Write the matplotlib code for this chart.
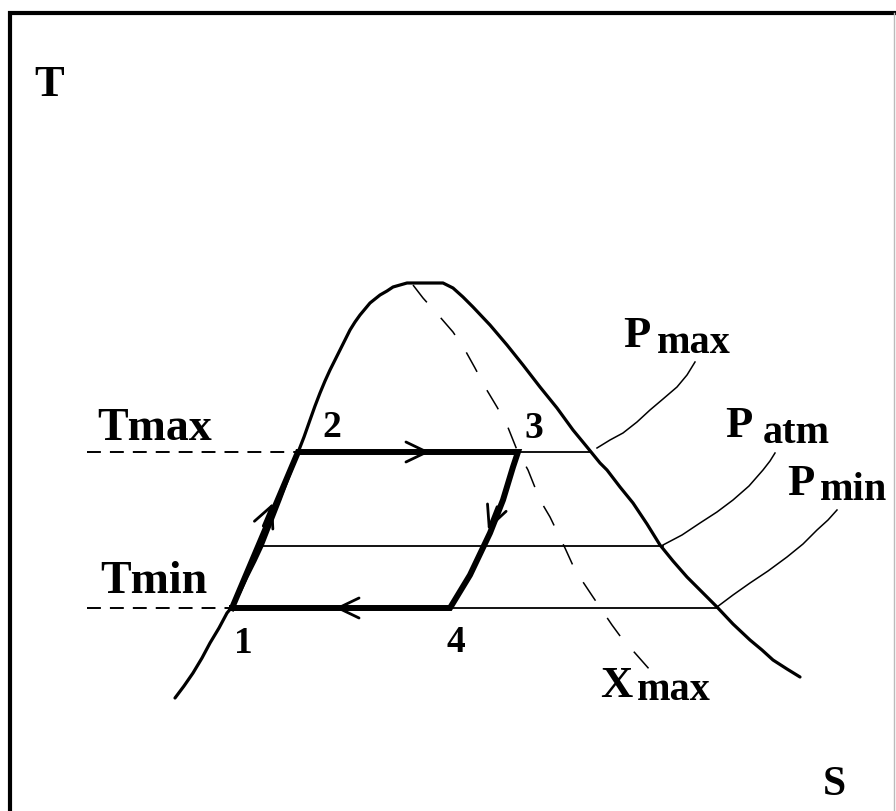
import numpy as np
import matplotlib
matplotlib.use("Agg")
import matplotlib.pyplot as plt
from matplotlib.patches import FancyArrowPatch

plt.rcParams['lines.scale_dashes'] = False

# ---- data (S, T in picture units; T grows downward on the page) ----
dome_s = [175, 184, 193, 202, 210, 219, 227, 232, 240, 247, 255, 262, 271, 280,
          289, 297, 304, 310, 315, 320, 325, 330, 335, 340, 345, 350, 355, 360,
          365, 370, 375, 380, 387, 393, 400, 407, 443, 453, 463, 473, 490, 507,
          523, 540, 557, 573, 587, 600, 607, 620, 633, 647, 660, 673, 687, 702,
          717, 733, 750, 762, 773, 787, 800]
dome_t = [698, 686, 673, 658, 643, 628, 613, 607, 592, 577, 561, 546, 523, 500,
          476, 455, 437, 420, 406, 393, 381, 370, 360, 350, 340, 330, 322, 315,
          309, 303, 299, 295, 291, 287, 285, 283, 283, 288, 297, 307, 325, 345,
          365, 387, 408, 430, 447, 463, 470, 487, 503, 524, 545, 561, 577, 592,
          607, 624, 640, 650, 660, 669, 677]

xmax_s = [413, 423, 440, 453, 465, 475, 485, 497, 507, 517, 528, 540, 550, 565,
          575, 593, 612, 623, 635, 650]
xmax_t = [285, 298, 317, 332, 350, 368, 387, 407, 425, 450, 470, 500, 517, 548,
          570, 597, 625, 640, 653, 670]

cycle_s = [232, 298, 518, 513, 503, 490, 470, 450, 232]
cycle_t = [608, 452, 452, 467, 500, 533, 575, 608, 608]

isobar_t = [452, 546, 608]
isobar_s_start = [298, 258, 232]
isobar_s_end = [590, 663, 717]

temp_t = [452, 608]
temp_s_start = [87, 87]
temp_s_end = [298, 232]

lead_pmax_s = [597, 610, 623, 637, 650, 663, 677, 687, 695]
lead_pmax_t = [448, 440, 433, 422, 410, 399, 387, 375, 362]
lead_patm_s = [663, 682, 700, 717, 733, 749, 763, 770, 775]
lead_patm_t = [545, 535, 523, 512, 500, 486, 470, 461, 453]
lead_pmin_s = [717, 733, 750, 768, 787, 803, 817, 828, 837]
lead_pmin_t = [607, 595, 583, 571, 557, 544, 530, 520, 510]

arrow_tip_s = [273, 430, 488, 335]
arrow_tip_t = [503, 452, 530, 608]
arrow_dir_s = [66, 1, -13, -1]
arrow_dir_t = [-156, 0, 33, 0]

# ---- figure ----
fig = plt.figure(figsize=(8.96, 8.11), dpi=100)
ax = fig.add_axes([0, 0, 1, 1])
ax.set_xlim(0, 896)
ax.set_ylim(811, 0)
ax.axis('off')

# frame
ax.plot([10, 10, 910], [830, 13, 13], color='black', lw=3.0, solid_joinstyle='miter')
ax.plot([894, 894], [13, 811], color='#bbbbbb', lw=1.0)

# thin isobars
for t, s0, s1 in zip(isobar_t, isobar_s_start, isobar_s_end):
    ax.plot([s0, s1], [t, t], color='black', lw=1.3)

# dashed temperature guides
for t, s0, s1 in zip(temp_t, temp_s_start, temp_s_end):
    ax.plot([s0, s1], [t, t], color='black', lw=1.4, linestyle=(0, (10, 6.5)))

# saturation dome
ax.plot(dome_s, dome_t, color='black', lw=2.3, solid_joinstyle='round',
        solid_capstyle='round')

# dryness line Xmax
ax.plot(xmax_s, xmax_t, color='black', lw=1.1, linestyle=(0, (16, 15)))

# cycle
ax.plot(cycle_s, cycle_t, color='black', lw=4.3, solid_joinstyle='miter')

# leaders
for ls, lt in ((lead_pmax_s, lead_pmax_t), (lead_patm_s, lead_patm_t),
               (lead_pmin_s, lead_pmin_t)):
    ax.plot(ls, lt, color='black', lw=1.1, solid_joinstyle='round')

# arrows
for s, t, ds, dt in zip(arrow_tip_s, arrow_tip_t, arrow_dir_s, arrow_dir_t):
    n = np.hypot(ds, dt)
    a = FancyArrowPatch((s - 25 * ds / n, t - 25 * dt / n), (s, t),
                        arrowstyle='->,head_length=0.75,head_width=0.36',
                        mutation_scale=20, lw=2.0, color='black',
                        shrinkA=0, shrinkB=0)
    ax.add_patch(a)

# text
fam = ['Liberation Serif', 'DejaVu Serif']
def txt(x, y, s, size, ha='left'):
    ax.text(x, y, s, fontsize=size, family=fam, fontweight='bold',
            ha=ha, va='baseline', color='black')

txt(34, 96, 'T', 32)
txt(823, 795, 'S', 30)
txt(97, 440, 'Tmax', 33)
txt(100, 593, 'Tmin', 33)
txt(332, 437, '2', 27, ha='center')
txt(534, 438, '3', 27, ha='center')
txt(243, 653, '1', 27, ha='center')
txt(456, 652, '4', 27, ha='center')

txt(623, 347, 'P', 32)
txt(657, 353, 'max', 29)
txt(725, 437, 'P', 32)
txt(763, 443, 'atm', 29)
txt(787, 495, 'P', 32)
txt(820, 500, 'min', 29)
txt(600, 697, 'X', 32)
txt(637, 700, 'max', 29)

fig.savefig('out.png', dpi=100)
